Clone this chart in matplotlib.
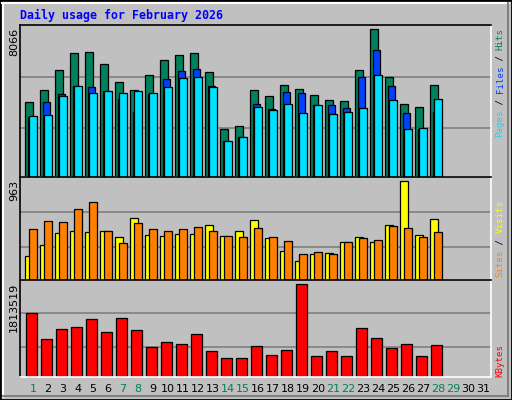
import matplotlib
matplotlib.use("Agg")
import matplotlib.pyplot as plt
from matplotlib.patches import Rectangle
from matplotlib.lines import Line2D
import numpy as np

title = "Daily usage for February 2026"
days = list(range(1, 29))
all_days = list(range(1, 32))
weekend = [1, 7, 8, 14, 15, 21, 22, 28, 29]
hits = [4070, 4727, 5822, 6752, 6807, 6150, 5178, 4727, 5548, 6369, 6643, 6752, 5712, 2646,
        2811, 4727, 4398, 5001, 4782, 4453, 4179, 4125, 5822, 8066, 5439, 4015, 3851, 5001]
files = [3303, 4070, 4508, 4946, 4891, 4672, 4234, 3577, 4508, 5329, 5767, 5877, 4946, 1989,
         2208, 4015, 3741, 4617, 4563, 3906, 3960, 3796, 5439, 6917, 4946, 3522, 2646, 3577]
pages = [3358, 3413, 4398, 4946, 4563, 4672, 4563, 4672, 4563, 4891, 5384, 5439, 4891, 1989,
         2208, 3851, 3687, 4015, 3522, 3906, 3468, 3577, 3796, 5548, 4179, 2646, 2701, 4234]
visits = [230, 345, 461, 481, 471, 481, 419, 607, 440, 429, 450, 450, 534, 429,
          481, 586, 408, 283, 188, 251, 262, 366, 419, 366, 534, 963, 440, 597]
sites = [492, 576, 565, 691, 754, 481, 356, 555, 492, 481, 492, 513, 481, 429,
         419, 502, 419, 377, 251, 272, 251, 366, 408, 387, 523, 502, 419, 471]
kbytes = [1237700, 741300, 939900, 979600, 1118600, 880300, 1138400, 920000, 582400, 681700,
          642000, 840600, 503000, 364000, 364000, 602300, 423600, 522900, 1813519, 403700,
          503000, 403700, 959700, 761100, 562600, 642000, 403700, 622200]

GRAY = "#C0C0C0"
C_HITS, C_FILES, C_PAGES = "#00805C", "#0040FF", "#00E0FF"
C_VIS, C_SITES, C_KB = "#FFFF00", "#FF8000", "#FF0000"
W, H = 512, 400

fig = plt.figure(figsize=(5.12, 4.0), dpi=100, facecolor=GRAY)

def fx(px): return px / W
def fy(py): return 1 - py / H

# frame
fig.add_artist(Rectangle((0, 0), 1, 1, transform=fig.transFigure, fill=False, ec="black", lw=2))
fig.add_artist(Line2D([fx(2), fx(509)], [fy(3), fy(3)], transform=fig.transFigure, color="white", lw=1.5))
fig.add_artist(Line2D([fx(3), fx(3)], [fy(3), fy(397)], transform=fig.transFigure, color="white", lw=1.5))
fig.add_artist(Line2D([fx(3), fx(508)], [fy(396), fy(396)], transform=fig.transFigure, color="#808080", lw=1.5))
fig.add_artist(Line2D([fx(508), fx(508)], [fy(3), fy(396)], transform=fig.transFigure, color="#808080", lw=1.5))

x0, x1 = 20, 491
xlim = (1 + (x0 - 33) / 15, 1 + (x1 - 33) / 15)

def make_ax(top, bot):
    ax = fig.add_axes([fx(x0), fy(bot), fx(x1) - fx(x0), (bot - top) / H])
    ax.set_facecolor(GRAY)
    ax.set_xlim(*xlim)
    ax.set_xticks([]); ax.set_yticks([])
    ax.spines["left"].set_color("black"); ax.spines["top"].set_color("black")
    ax.spines["right"].set_color("white"); ax.spines["bottom"].set_color("white")
    for s in ax.spines.values(): s.set_linewidth(1.2)
    return ax

d = np.array(days)
lw = 0.9

ax1 = make_ax(25, 177)
top1 = 8066 * 455 / 442
ax1.set_ylim(0, top1)
for f in (0.325, 0.66): ax1.axhline(top1 * f, color="#808080", lw=1.2, zorder=0)
ax1.bar(d - 0.265, hits, width=0.49, color=C_HITS, ec="black", lw=lw, zorder=2)
ax1.bar(d - 0.105, files, width=0.49, color=C_FILES, ec="black", lw=lw, zorder=3)
ax1.bar(d + 0.0, pages, width=0.49, color=C_PAGES, ec="black", lw=lw, zorder=4)

ax2 = make_ax(177, 280)
top2 = 963 * 287 / 276
ax2.set_ylim(0, top2)
for f in (0.317, 0.66): ax2.axhline(top2 * f, color="#808080", lw=1.2, zorder=0)
ax2.bar(d - 0.265, visits, width=0.49, color=C_VIS, ec="black", lw=lw, zorder=2)
ax2.bar(d + 0.0, sites, width=0.49, color=C_SITES, ec="black", lw=lw, zorder=3)

ax3 = make_ax(280, 377)
top3 = 1813519 * 285 / 274
ax3.set_ylim(0, top3)
for f in (0.31, 0.656): ax3.axhline(top3 * f, color="#808080", lw=1.2, zorder=0)
ax3.bar(d - 0.1, kbytes, width=0.69, color=C_KB, ec="black", lw=lw, zorder=2)

mono = "DejaVu Sans Mono"
fig.text(fx(20), fy(15), title, color="#0000FF", family=mono, weight="bold", fontsize=8.4, va="center", ha="left")

# left max labels
for ax, v, top in ((ax1, hits, 25), (ax2, visits, 177), (ax3, kbytes, 280)):
    fig.text(fx(14), fy(top + 3), str(max(v)), rotation=90, ha="center", va="top", fontsize=8, color="black")

def side_label(parts, bottom_px):
    y = bottom_px
    step = 5.45
    for txt, col in parts:
        fig.text(fx(500), fy(y), txt, rotation=90, ha="center", va="bottom", color=col,
                 family=mono, fontsize=6.6)
        y -= step * len(txt)

side_label([("Pages", C_PAGES), (" / ", "black"), ("Files", C_FILES), (" / ", "black"), ("Hits", C_HITS)], 137)
side_label([("Sites", C_SITES), (" / ", "black"), ("Visits", C_VIS)], 277)
side_label([("KBytes", C_KB)], 377)

for dd in all_days:
    col = C_HITS if dd in weekend else "black"
    fig.text(fx(33 + (dd - 1) * 15), fy(389), str(dd), ha="center", va="center", fontsize=8, color=col)

fig.savefig("out.png", dpi=100, facecolor=GRAY)
